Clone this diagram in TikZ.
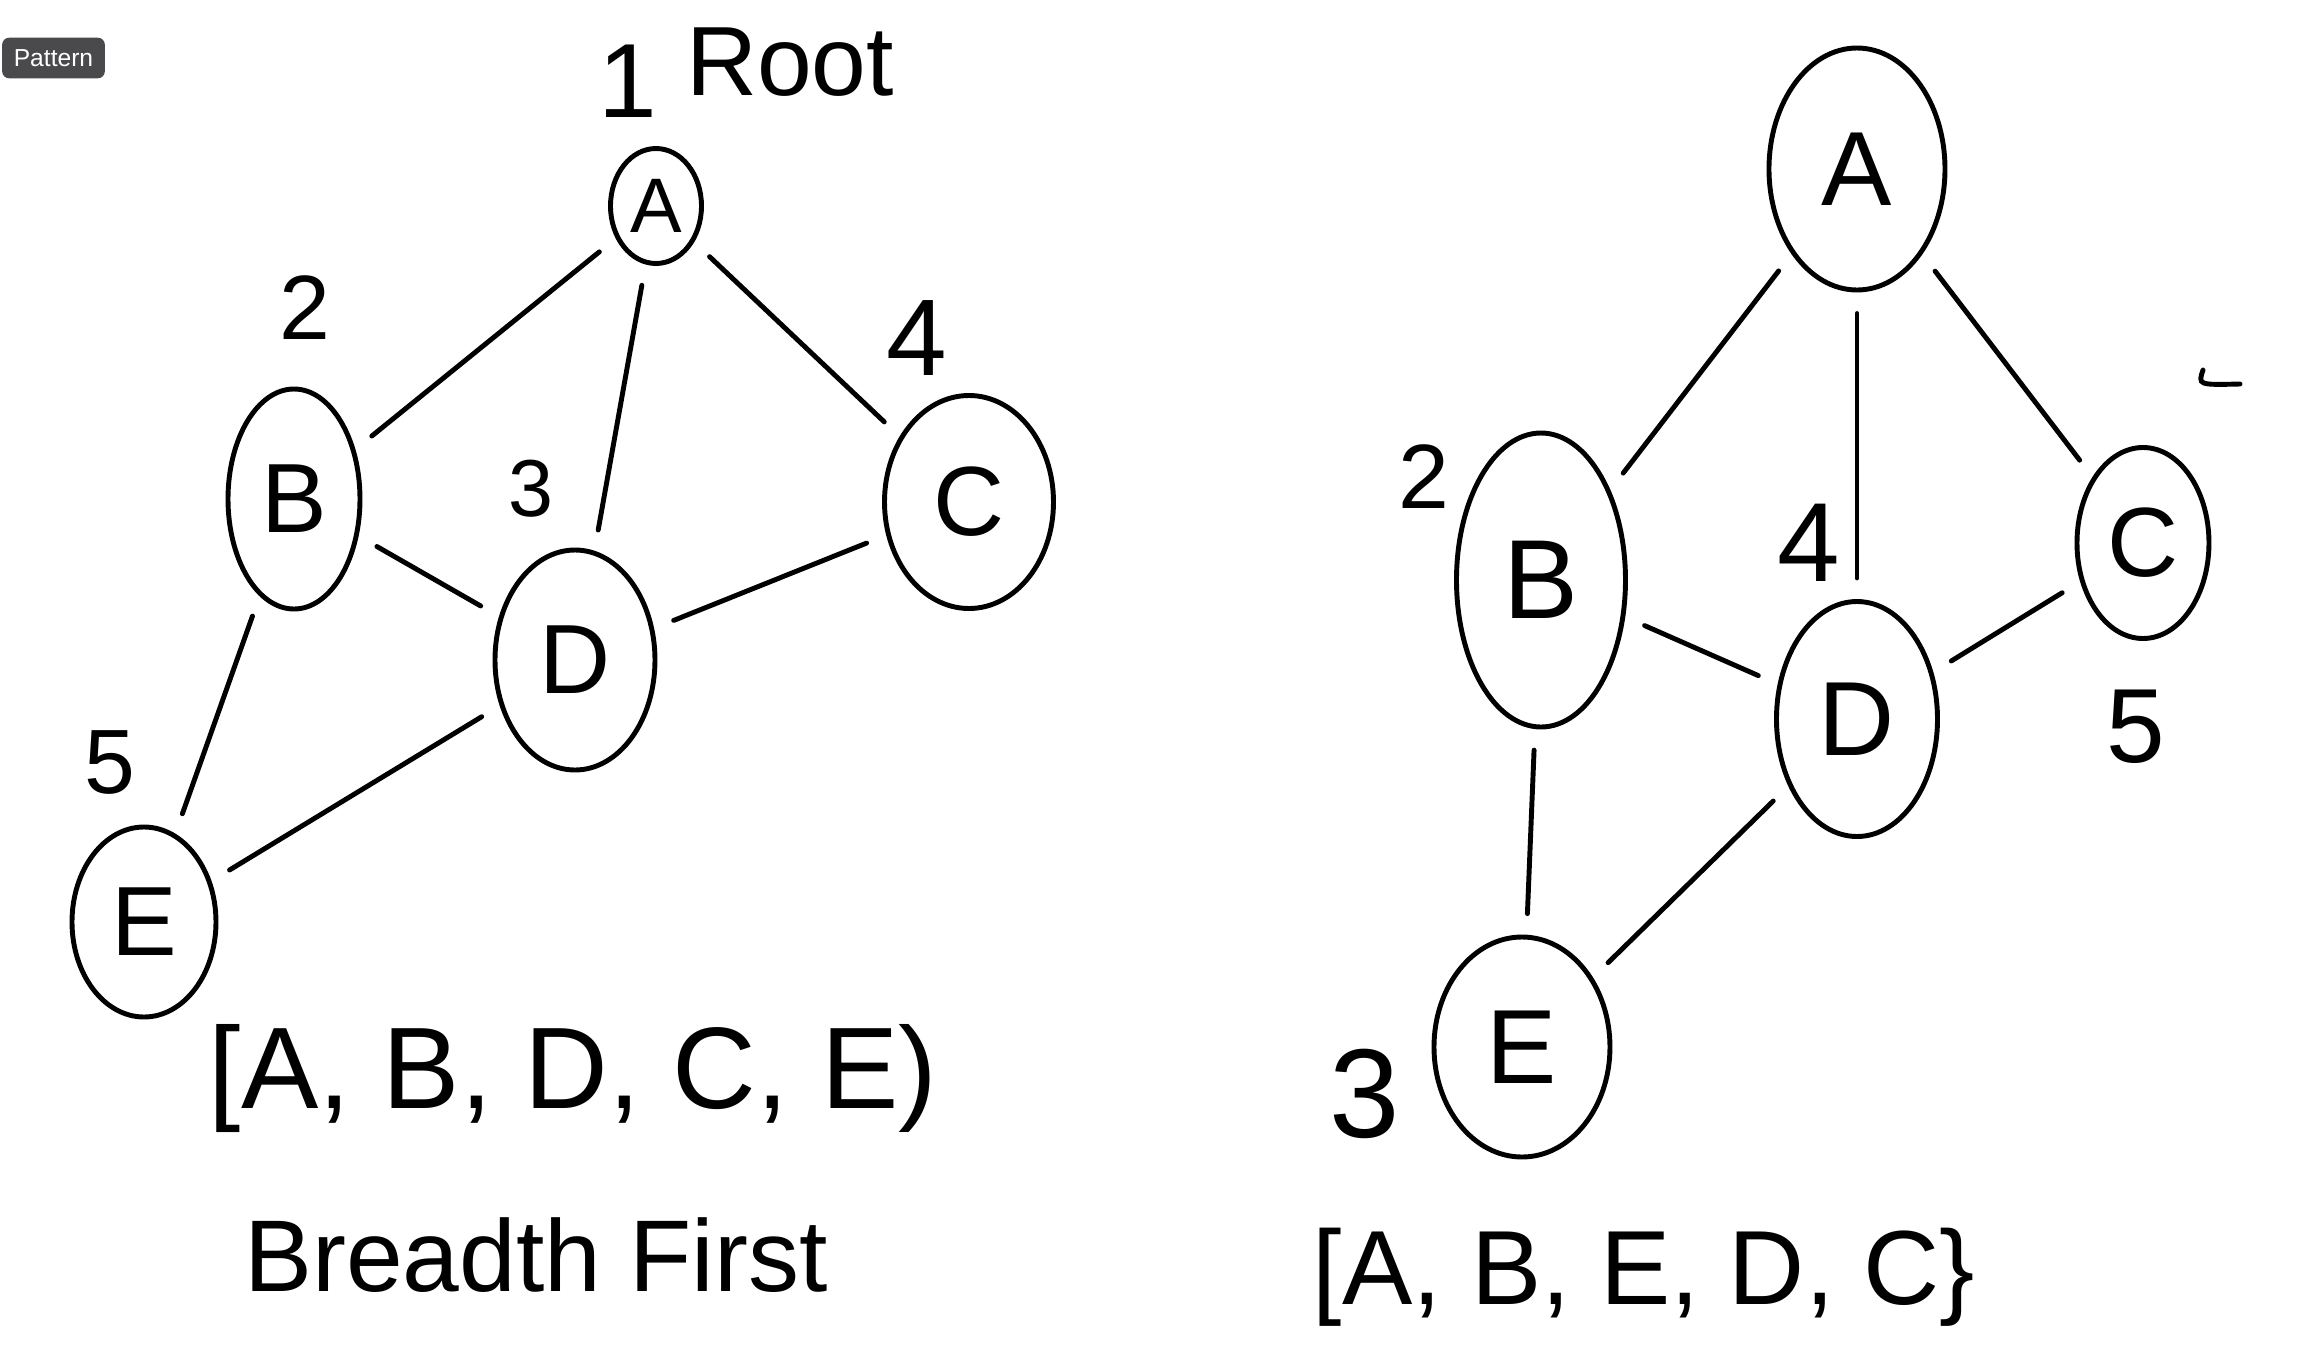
\documentclass[tikz,border=0pt]{standalone}
\usepackage{fontspec}
\setmainfont{Liberation Sans}
\usetikzlibrary{shapes.geometric}
\definecolor{badge}{HTML}{4A4A4D}

\begin{document}
\begin{tikzpicture}[every node/.style={align=center},
  vertex/.style={draw,ellipse,line width=1.4pt,inner sep=0pt},
  link/.style={line width=1.4pt,line cap=round,shorten >=6pt,shorten <=6pt},
  num/.style={font=\fontsize{26}{30}\selectfont}]
\useasboundingbox (0,0) rectangle (23.02,-13.68);
\node[fill=badge,rounded corners=2pt,text=white,font=\fontsize{7}{8}\selectfont,minimum width=1.01cm,minimum height=0.36cm] (tag) at (0.535,-0.58) {Pattern};

\node[vertex,minimum width=0.91cm,minimum height=1.15cm,font=\fontsize{22}{26}\selectfont] (la) at (6.56,-2.06) {A};
\node[vertex,minimum width=1.32cm,minimum height=2.2cm,font=\fontsize{28}{32}\selectfont] (lb) at (2.94,-4.99) {B};
\node[vertex,minimum width=1.6cm,minimum height=2.2cm,font=\fontsize{28}{32}\selectfont] (ld) at (5.75,-6.60) {D};
\node[vertex,minimum width=1.69cm,minimum height=2.13cm,font=\fontsize{28}{32}\selectfont] (lc) at (9.69,-5.02) {C};
\node[vertex,minimum width=1.44cm,minimum height=1.9cm,font=\fontsize{28}{32}\selectfont] (le) at (1.44,-9.22) {E};
\draw[link] (la)--(lb);\draw[link] (la)--(ld);\draw[link] (la)--(lc);\draw[link] (lb)--(ld);\draw[link] (ld)--(lc);\draw[link] (lb)--(le);\draw[link] (ld)--(le);
\node[font=\fontsize{30}{34}\selectfont] (l1) at (6.28,-0.81) {1};
\node[font=\fontsize{28}{32}\selectfont] (lroot) at (7.90,-0.62) {Root};
\node[num] (l2) at (3.05,-3.08) {2};
\node[font=\fontsize{23}{27}\selectfont] (l3) at (5.31,-4.89) {3};
\node[font=\fontsize{31}{35}\selectfont] (l4) at (9.17,-3.38) {4};
\node[num] (l5) at (1.10,-7.63) {5};
\node[font=\fontsize{33}{37}\selectfont] (lorder) at (5.73,-10.79) {[A, B, D, C, E)};
\node[font=\fontsize{29}{33}\selectfont] (lname) at (5.36,-12.55) {Breadth First};

\node[vertex,minimum width=1.76cm,minimum height=2.42cm,font=\fontsize{30}{34}\selectfont] (ra) at (18.57,-1.69) {A};
\node[vertex,minimum width=1.69cm,minimum height=2.94cm,font=\fontsize{32}{36}\selectfont] (rb) at (15.41,-5.80) {B};
\node[vertex,minimum width=1.61cm,minimum height=2.35cm,font=\fontsize{30}{34}\selectfont] (rd) at (18.57,-7.19) {D};
\node[vertex,minimum width=1.32cm,minimum height=1.91cm,font=\fontsize{28}{32}\selectfont] (rc) at (21.43,-5.43) {C};
\node[vertex,minimum width=1.76cm,minimum height=2.2cm,font=\fontsize{30}{34}\selectfont] (re) at (15.22,-10.47) {E};
\draw[link] (ra)--(rb);\draw[link] (ra)--(rd);\draw[link] (ra)--(rc);\draw[link] (rb)--(rd);\draw[link] (rd)--(rc);\draw[link] (rb)--(re);\draw[link] (rd)--(re);
\node[num] (r2) at (14.24,-4.77) {2};
\node[font=\fontsize{32}{36}\selectfont] (r4) at (18.09,-5.43) {4};
\node[font=\fontsize{36}{40}\selectfont] (r3) at (13.65,-10.94) {3};
\node[font=\fontsize{30}{34}\selectfont] (r5) at (21.36,-7.27) {5};
\draw[line width=1.4pt,line cap=round] (22.03,-3.70) .. controls (21.98,-3.85) .. (22.40,-3.84);
\node[font=\fontsize{30}{34}\selectfont] (rorder) at (16.44,-12.77) {[A, B, E, D, C\}};
\end{tikzpicture}
\end{document}
